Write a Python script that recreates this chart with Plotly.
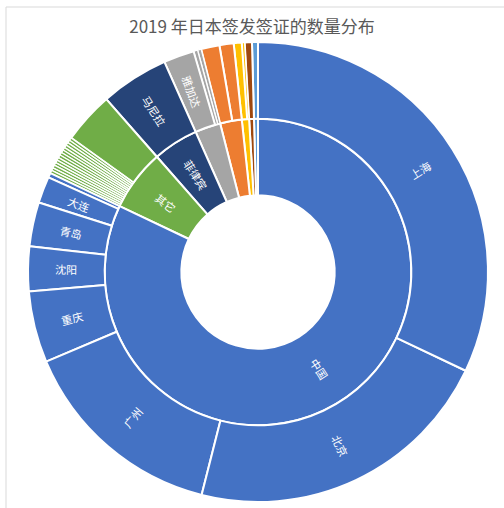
import math
import plotly.graph_objects as go

# 2019 visas issued by Japan, in thousands, grouped country -> city
countries = ["中国", "其它", "菲律宾", "印度尼西亚", "越南", "泰国", "印度", "蒙古"]
country_colors = ["#4472C4", "#70AD47", "#264478", "#A5A5A5",
                  "#ED7D31", "#FFC000", "#9E480E", "#5B9BD5"]

cities = {
    "中国": ["上海", "北京", "广州", "重庆", "沈阳", "青岛", "大连", "香港"],
    "其它": ["孟买", "金奈", "加尔各答", "卡拉奇", "伊斯兰堡", "达卡", "仰光",
             "金边", "万象", "科伦坡", "加德满都", "德黑兰", "莫斯科", "圣保罗",
             "其它地区"],
    "菲律宾": ["马尼拉"],
    "印度尼西亚": ["雅加达", "泗水", "登巴萨"],
    "越南": ["胡志明市", "河内"],
    "泰国": ["曼谷", "清迈"],
    "印度": ["新德里"],
    "蒙古": ["乌兰巴托"],
}
city_values = {
    "中国": [2220, 1515, 1017, 347, 218, 214, 129, 23],
    "其它": [14, 14, 14, 14, 14, 14, 14, 14, 14, 14, 14, 14, 14, 14, 251],
    "菲律宾": [332],
    "印度尼西亚": [149, 20, 18],
    "越南": [89, 69],
    "泰国": [39, 14],
    "印度": [35],
    "蒙古": [29],
}
# names written on the chart
shown = {"中国", "其它", "菲律宾", "上海", "北京", "广州", "重庆", "沈阳",
         "青岛", "大连", "马尼拉", "雅加达"}

W, H = 504, 508
CX, CY, R = 258, 272, 230          # chart centre and outer radius in pixels

ids, labels, parents, values, colors, widths = [], [], [], [], [], []
ids.append("root"); labels.append(""); parents.append(""); values.append(
    sum(sum(v) for v in city_values.values()))
colors.append("white"); widths.append(0)

# sunburst runs counter-clockwise, so feed nodes in reverse for a clockwise read
for c, col in reversed(list(zip(countries, country_colors))):
    ids.append(c); labels.append(c); parents.append("root")
    values.append(sum(city_values[c])); colors.append(col); widths.append(2)
    for name, v in reversed(list(zip(cities[c], city_values[c]))):
        ids.append(c + "/" + name); labels.append(name); parents.append(c)
        values.append(v); colors.append(col); widths.append(2 if v > 20 else 1.4)

# radial labels placed in the middle of each ring
total = values[0]
ring = R / 3


def radial_label(text, a0, a1, level):
    mid = (a0 + a1) / 2 / total * 360.0          # degrees clockwise from 12 o'clock
    rr = ring * (level + 0.5)
    px = CX + rr * math.sin(math.radians(mid))
    py = CY - rr * math.cos(math.radians(mid))
    ang = mid - 90 if mid <= 180 else mid - 270
    return dict(text=text, x=px / W, y=1 - py / H, xref="paper", yref="paper",
                showarrow=False, textangle=ang, xanchor="center", yanchor="middle",
                font=dict(color="white", size=11, family="Noto Sans CJK SC"))


annotations = []
acc = 0
for c in countries:
    start = acc
    for name, v in zip(cities[c], city_values[c]):
        if name in shown:
            annotations.append(radial_label(name, acc, acc + v, 2))
        acc += v
    if c in shown:
        annotations.append(radial_label(c, start, acc, 1))

fig = go.Figure(go.Sunburst(
    ids=ids, labels=labels, parents=parents, values=values,
    branchvalues="total", sort=False, rotation=90,
    textinfo="none",
    leaf=dict(opacity=1),
    marker=dict(colors=colors, line=dict(color="white", width=widths)),
    hoverinfo="label+value",
    domain=dict(x=[(CX - R) / W, (CX + R) / W],
                y=[1 - (CY + R) / H, 1 - (CY - R) / H]),
))

fig.update_layout(
    width=W, height=H,
    margin=dict(l=0, r=0, t=0, b=0),
    paper_bgcolor="white",
    font=dict(family="Noto Sans CJK SC"),
    title=dict(text="2019 年日本签发签证的数量分布", x=0.5, xanchor="center",
               y=1 - 27 / H, yanchor="middle",
               font=dict(size=17, color="#595959", family="Noto Sans CJK SC")),
    annotations=annotations,
    shapes=[dict(type="rect", xref="paper", yref="paper",
                 x0=6 / W, x1=1.05, y0=-0.05, y1=1 - 7 / H,
                 line=dict(color="#D9D9D9", width=1), fillcolor="rgba(0,0,0,0)")],
)

fig.write_html("out.html")
